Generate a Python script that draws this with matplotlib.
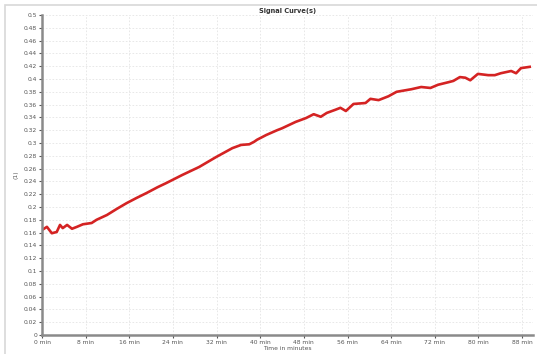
import matplotlib
matplotlib.use("Agg")
import matplotlib.pyplot as plt
from matplotlib.patches import Rectangle

# Signal readings (time in minutes, signal value)
time_min = [0.0, 0.9, 1.8, 2.7, 3.3, 3.8, 4.6, 5.5, 6.4, 7.5, 9.1, 10.0, 11.9,
            13.7, 15.5, 17.3, 19.2, 21.2, 22.8, 25.7, 28.8, 31.9, 34.9, 36.5,
            38.0, 38.9, 39.4, 41.1, 43.1, 44.0, 46.5, 48.4, 49.8, 51.1, 52.2,
            53.8, 54.7, 55.7, 57.1, 59.3, 60.2, 61.7, 63.5, 65.0, 67.7, 69.5,
            71.2, 72.6, 74.5, 75.4, 76.6, 77.6, 78.5, 79.9, 81.8, 83.0, 84.1,
            86.0, 86.9, 87.8, 89.4]
signal = [0.164, 0.169, 0.159, 0.161, 0.172, 0.167, 0.172, 0.166, 0.169, 0.173,
          0.175, 0.180, 0.1875, 0.197, 0.206, 0.214, 0.222, 0.231, 0.2375,
          0.250, 0.2625, 0.278, 0.292, 0.297, 0.298, 0.302, 0.305, 0.3125,
          0.320, 0.323, 0.333, 0.339, 0.345, 0.341, 0.347, 0.352, 0.355,
          0.350, 0.361, 0.3625, 0.369, 0.367, 0.373, 0.380, 0.384, 0.3875,
          0.386, 0.391, 0.395, 0.397, 0.403, 0.402, 0.398, 0.408, 0.406,
          0.406, 0.409, 0.4125, 0.409, 0.417, 0.419]

x_ticks = [0, 8, 16, 24, 32, 40, 48, 56, 64, 72, 80, 88]
x_tick_labels = [f"{t} min" for t in x_ticks]
y_ticks = [i * 0.02 for i in range(26)]
y_tick_labels = ["0" if i == 0 else f"{i * 0.02:.2f}".rstrip("0") for i in range(26)]

W, H = 537, 354
fig = plt.figure(figsize=(W / 100, H / 100), dpi=100)
fig.patch.set_facecolor("white")

# light outer frame
fig.add_artist(Rectangle((5 / W, -0.1), 1.2, (H - 5) / H + 0.1,
                         transform=fig.transFigure, fill=False,
                         edgecolor="#d8d8d8", linewidth=1.2))

ax = fig.add_axes([42 / W, 1 - 335 / H, (533 - 42) / W, (335 - 15) / H])
ax.plot(time_min, signal, color="#d42323", linewidth=1.9, solid_joinstyle="round")

ax.set_xlim(0, 90)
ax.set_ylim(0, 0.5)
ax.set_xticks(x_ticks)
ax.set_xticklabels(x_tick_labels)
ax.set_yticks(y_ticks)
ax.set_yticklabels(y_tick_labels)
ax.tick_params(axis="both", labelsize=4.3, colors="#555555", length=2, width=0.8, pad=1.5)

ax.grid(True, color="#e4e4e4", linestyle=(0, (2, 2)), linewidth=0.6)
ax.set_axisbelow(True)

for side in ("top", "right"):
    ax.spines[side].set_visible(False)
for side in ("left", "bottom"):
    ax.spines[side].set_color("#8a8a8a")
    ax.spines[side].set_linewidth(1.8)

ax.set_title("Signal Curve(s)", fontsize=4.8, fontweight="bold", color="#333333", pad=1.5)
ax.set_xlabel("Time in minutes", fontsize=4.3, color="#555555", labelpad=0.5)
ax.set_ylabel("(1)", fontsize=4.3, color="#555555", labelpad=4)

fig.savefig("out.png", dpi=100, facecolor="white")
